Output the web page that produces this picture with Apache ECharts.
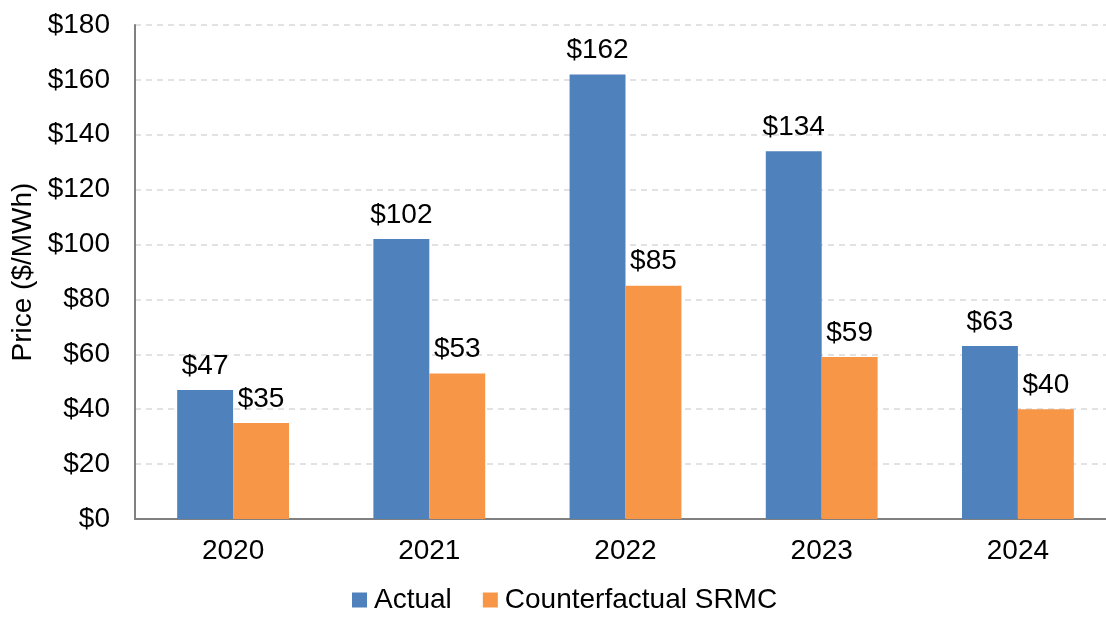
<!DOCTYPE html>
<html>
<head>
<meta charset="utf-8">
<script src="https://cdn.jsdelivr.net/npm/echarts@6/dist/echarts.min.js"></script>
<style>
  html, body { margin: 0; padding: 0; background: #fff; }
  #chart { width: 1106px; height: 619px; }
</style>
</head>
<body>
<div id="chart"></div>
<script>
var years = ['2020', '2021', '2022', '2023', '2024'];
var actual = [47, 102, 162, 134, 63];
var counterfactual = [35, 53, 85, 59, 40];

var font = 'Liberation Sans, Arial, sans-serif';

function money(p) { return '$' + p.value; }

var chart = echarts.init(document.getElementById('chart'));
chart.setOption({
  animation: false,
  textStyle: { fontFamily: font },
  grid: { left: 135, right: -10, top: 25, bottom: 100, containLabel: false, outerBoundsMode: 'none' },
  legend: {
    bottom: 0,
    left: 347,
    itemWidth: 15,
    itemHeight: 15,
    itemGap: 31,
    icon: 'rect',
    textStyle: { fontSize: 28, color: '#000', fontFamily: font, padding: [0, 0, 0, 2] },
    data: ['Actual', 'Counterfactual SRMC']
  },
  xAxis: {
    type: 'category',
    data: years,
    axisLine: { lineStyle: { color: '#808080', width: 2 } },
    axisTick: { show: false },
    axisLabel: { fontSize: 28, color: '#000', margin: 18, fontFamily: font }
  },
  yAxis: {
    type: 'value',
    min: 0,
    max: 180,
    interval: 20,
    name: 'Price ($/MWh)',
    nameLocation: 'middle',
    nameGap: 90,
    nameTextStyle: { fontSize: 28, color: '#000', fontFamily: font },
    axisLine: { show: true, lineStyle: { color: '#808080', width: 2 } },
    axisTick: { show: false },
    axisLabel: { fontSize: 28, color: '#000', margin: 25, formatter: '${value}', fontFamily: font },
    splitLine: { lineStyle: { color: '#d9d9d9', type: [6, 5], width: 1.5 } }
  },
  series: [
    {
      name: 'Actual',
      type: 'bar',
      data: actual,
      barGap: '0%',
      barCategoryGap: '43%',
      itemStyle: { color: '#4F81BD' },
      label: { show: true, position: 'top', distance: 10, fontSize: 28, color: '#000', formatter: money, fontFamily: font }
    },
    {
      name: 'Counterfactual SRMC',
      type: 'bar',
      data: counterfactual,
      barGap: '0%',
      barCategoryGap: '43%',
      itemStyle: { color: '#F79646' },
      label: { show: true, position: 'top', distance: 10, fontSize: 28, color: '#000', formatter: money, fontFamily: font }
    }
  ]
});
</script>
</body>
</html>
